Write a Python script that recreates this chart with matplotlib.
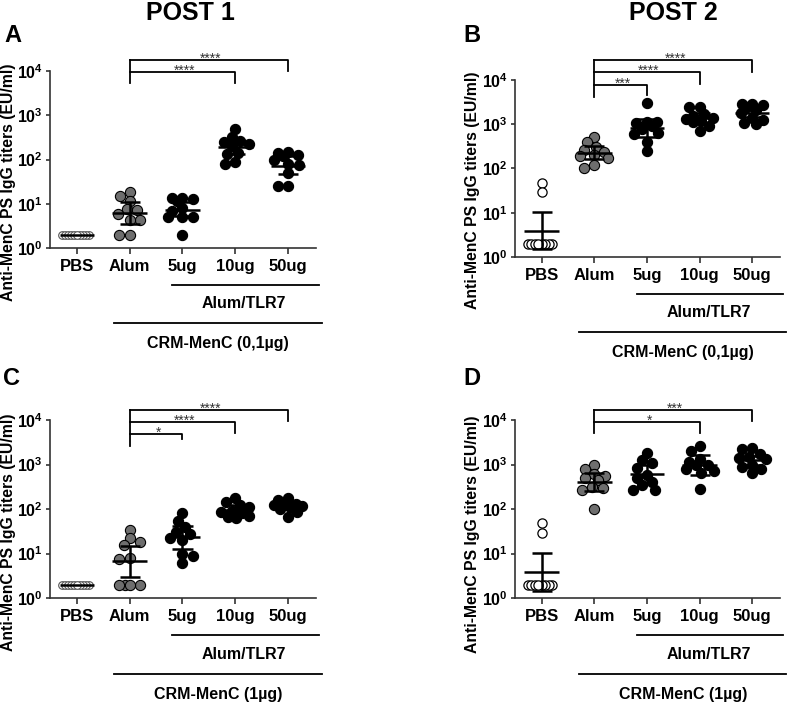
import numpy as np
import matplotlib
matplotlib.use('Agg')
import matplotlib.pyplot as plt
import matplotlib.transforms as mtransforms

plt.rcParams['font.family'] = ['Liberation Sans', 'DejaVu Sans']
plt.rcParams['font.weight'] = 'bold'
plt.rcParams['mathtext.fontset'] = 'custom'
plt.rcParams['mathtext.rm'] = 'Liberation Sans'
plt.rcParams['mathtext.bf'] = 'Liberation Sans:bold'

groups = ['PBS', 'Alum', '5ug', '10ug', '50ug']

# titers (EU/ml), 10 mice per group
a_vals = [
    [2, 2, 2, 2, 2, 2, 2, 2, 2, 2],
    [18, 15, 11.5, 7.7, 7.2, 5.9, 4.3, 4.3, 2, 2],
    [13.3, 13.3, 12.6, 11.7, 8, 7, 5, 5, 5, 2],
    [490, 330, 256, 250, 220, 200, 140, 135, 90, 80],
    [144, 139, 126, 117, 100, 80, 75, 49, 25, 25],
]
b_vals = [
    [47, 29, 2, 2, 2, 2, 2, 2, 2, 2],
    [524, 391, 311, 261, 240, 200, 192, 170, 120, 104],
    [3000, 1150, 1150, 1050, 900, 770, 640, 600, 400, 250],
    [2500, 2500, 1700, 1500, 1350, 1300, 1200, 1100, 900, 700],
    [2900, 2900, 2700, 2500, 2100, 1800, 1350, 1250, 1050, 1000],
]
c_vals = [
    [2, 2, 2, 2, 2, 2, 2, 2, 2, 2],
    [34, 22, 18.5, 15.5, 8.1, 7.4, 2, 2, 2, 2],
    [80, 55, 40, 31, 28, 22, 20, 10, 9, 6],
    [175, 145, 120, 110, 90, 85, 80, 70, 65, 62],
    [175, 160, 130, 127, 120, 115, 110, 100, 85, 65],
]
d_vals = [
    [49, 29.5, 2, 2, 2, 2, 2, 2, 2, 2],
    [980, 780, 600, 550, 500, 450, 320, 290, 270, 100],
    [1800, 1230, 1070, 850, 580, 500, 400, 350, 270, 270],
    [2600, 2000, 1300, 1150, 1000, 950, 800, 700, 650, 280],
    [2300, 2200, 1700, 1500, 1400, 1300, 1000, 900, 800, 650],
]

# mean line, lower and upper error bar per group
a_mean = [2, 6.2, 7.1, 190, 73]
a_lo = [2, 3.5, 5.3, 133, 48]
a_hi = [2, 10.7, 11, 276, 121]
b_mean = [3.8, 226, 810, 1350, 1820]
b_lo = [1.5, 160, 505, 1050, 1430]
b_hi = [10.3, 325, 1300, 1750, 2280]
c_mean = [2, 6.9, 23, 95, 117]
c_lo = [2, 3.0, 12.8, 73, 100]
c_hi = [2, 14.7, 41, 121, 140]
d_mean = [3.9, 410, 600, 970, 1260]
d_lo = [1.4, 253, 380, 580, 980]
d_hi = [10.1, 655, 980, 1630, 1550]

# significance brackets vs Alum: (target group, bar height, leg end, stars) in log10
a_sig = [(4, 4.25, 4.0, '****'), (3, 3.98, 3.73, '****')]
b_sig = [(4, 4.45, 4.19, '****'), (3, 4.19, 3.91, '****'), (2, 3.89, 3.66, '***')]
c_sig = [(4, 4.22, 3.98, '****'), (3, 3.96, 3.70, '****'), (2, 3.68, 3.57, '*')]
d_sig = [(4, 4.22, 3.98, '***'), (3, 3.96, 3.70, '*')]
left_leg = [3.73, 3.62, 3.42, 3.70]

W, H = 787, 704
fig = plt.figure(figsize=(W / 100, H / 100), dpi=100)


def rect(l, t, r, b):
    return [l / W, 1 - b / H, (r - l) / W, (b - t) / H]


def swarm(vals, pxx, pxy, rx, ry, maxw):
    # simple beeswarm in pixel space, elliptical spacing, capped width
    order = np.argsort(vals)[::-1]
    placed = []
    offs = np.zeros(len(vals))
    cands = [0.0]
    for k in range(1, int(maxw / 0.5) + 1):
        cands += [k * 0.5, -k * 0.5]
    for n, i in enumerate(order):
        y = np.log10(vals[i]) * pxy
        sign = 1 if n % 2 == 0 else -1
        best, best_d = 0.0, -1
        for c in cands:
            s = c * sign
            dmin = min([((s - px) / rx) ** 2 + ((y - py) / ry) ** 2 for px, py in placed] or [9])
            if dmin >= 1:
                best = s
                break
            if dmin > best_d + 1e-9:
                best, best_d = s, dmin
        placed.append((best, y))
        offs[i] = best / pxx
    return offs


def panel(box, vals, mean, lo, hi, sig, leg, pbs_open, crm):
    ax = fig.add_axes(rect(*box))
    ax.set_yscale('log')
    ax.set_ylim(1, 1e4)
    ax.set_xlim(-0.51, 4.53)
    pxx = (box[2] - box[0]) / 5.04
    pxy = (box[3] - box[1]) / 4
    for i, v in enumerate(vals):
        if i == 0:
            d = 3.1 if pbs_open else 2.8
            x = i + swarm(v, pxx, pxy, d, d, 20)
        else:
            x = i + swarm(v, pxx, pxy, 10.5, 8, 14)
        if i == 0 and pbs_open:
            ax.scatter(x, v, s=44, facecolor='white', edgecolor='black', lw=0.9, zorder=3)
        elif i == 0:
            ax.scatter(x, v, s=30, facecolor='white', edgecolor='#555555', lw=0.8, zorder=3)
        elif i == 1:
            ax.scatter(x, v, s=54, facecolor='#6e6e6e', edgecolor='black', lw=0.8, zorder=3)
        else:
            ax.scatter(x, v, s=54, facecolor='black', edgecolor='black', lw=0.8, zorder=3)
        ax.hlines(mean[i], i - 0.33, i + 0.33, color='black', lw=1.8, zorder=4)
        if hi[i] > lo[i]:
            ax.vlines(i, lo[i], hi[i], color='black', lw=1.8, zorder=4)
            ax.hlines([lo[i], hi[i]], i - 0.19, i + 0.19, color='black', lw=1.8, zorder=4)
    for sp in ['top', 'right']:
        ax.spines[sp].set_visible(False)
    for sp in ['left', 'bottom']:
        ax.spines[sp].set_color('#333333')
        ax.spines[sp].set_linewidth(1.2)
    ax.set_yticks([1, 10, 100, 1000, 10000])
    ax.set_yticklabels([r'$\mathbf{10^{%d}}$' % k for k in range(5)])
    ax.minorticks_off()
    ax.set_xticks(range(5))
    ax.set_xticklabels(groups)
    ax.tick_params(axis='x', length=4, width=1.2, color='#333333', labelsize=12, pad=4)
    ax.tick_params(axis='y', length=3, width=1.2, color='#333333', labelsize=11.5, pad=2)
    # brackets
    ax.plot([1, 1], [10 ** leg, 10 ** max(s[1] for s in sig)], color='black', lw=1.3, clip_on=False)
    for tx, yb, yl, lab in sig:
        ax.plot([1, tx, tx], [10 ** yb, 10 ** yb, 10 ** yl], color='black', lw=1.3, clip_on=False)
        ax.annotate(lab, xy=((1 + tx) / 2 + 0.04, 10 ** yb), xytext=(0, -2), textcoords='offset points',
                    ha='center', va='baseline', fontsize=10, fontweight='normal', color='#333333',
                    annotation_clip=False)
    # group lines under the axis
    tr = mtransforms.blended_transform_factory(ax.transData, ax.transAxes)
    ax.plot([1.81, 4.59], [-0.209, -0.209], color='black', lw=1.3, transform=tr, clip_on=False)
    ax.text(3.17, -0.316, 'Alum/TLR7', transform=tr, ha='center', va='center', fontsize=11.5)
    ax.plot([0.7, 4.64], [-0.426, -0.426], color='black', lw=1.3, transform=tr, clip_on=False)
    ax.text(2.68, -0.54, crm, transform=tr, ha='center', va='center', fontsize=11.5)
    return ax


panel((50, 71, 316, 248), a_vals, a_mean, a_lo, a_hi, a_sig, left_leg[0], False, 'CRM-MenC (0,1µg)')
panel((515, 80, 780, 257), b_vals, b_mean, b_lo, b_hi, b_sig, left_leg[1], True, 'CRM-MenC (0,1µg)')
panel((50, 420, 316, 598), c_vals, c_mean, c_lo, c_hi, c_sig, left_leg[2], False, 'CRM-MenC (1µg)')
panel((515, 420, 780, 598), d_vals, d_mean, d_lo, d_hi, d_sig, left_leg[3], True, 'CRM-MenC (1µg)')

ylab = 'Anti-MenC PS IgG titers (EU/ml)'
for x, y in [(9, 182), (473, 190), (9, 532), (473, 534)]:
    fig.text(x / W, 1 - y / H, ylab, rotation=90, ha='center', va='center', fontsize=11.3)

fig.text(190 / W, 1 - 13 / H, 'POST 1', ha='center', va='center', fontsize=18)
fig.text(673 / W, 1 - 13 / H, 'POST 2', ha='center', va='center', fontsize=18)
for lab, x, y in [('A', 4, 36), ('B', 463, 36), ('C', 3, 378), ('D', 463, 378)]:
    fig.text(x / W, 1 - y / H, lab, ha='left', va='center', fontsize=17)

fig.savefig('out.png', dpi=100)
